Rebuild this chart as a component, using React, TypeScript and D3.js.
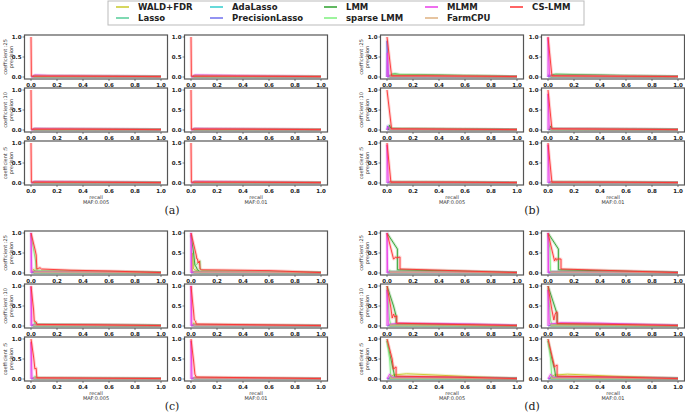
import React from "react";
import * as d3 from "d3";

type Pt = [number, number];
type Series = { m: string; p: Pt[] };

const methods = ["WALD+FDR", "Lasso", "AdaLasso", "PrecisionLasso", "LMM", "sparse LMM", "MLMM", "FarmCPU", "CS-LMM"];
const methodColors = ["#c8c828", "#55cc99", "#33cccc", "#6f6fee", "#2ca02c", "#7cf07c", "#e83ee8", "#deb080", "#ff3030"];

const xTicks = [0, 0.2, 0.4, 0.6, 0.8, 1.0];
const yTicks = [0, 0.5, 1.0];
const coefLabels = ["coefficient :25", "coefficient :10", "coefficient :5"];
const mafLabels = ["MAF:0.005", "MAF:0.01"];
const groupLabels = ["(a)", "(b)", "(c)", "(d)"];

// near-zero background curves shared by every panel
const background: Series[] = [
  { m: "WALD+FDR", p: [[0.01, 0], [0.03, 0.02], [0.5, 0.015], [1, 0.01]] },
  { m: "Lasso", p: [[0.02, 0.01], [1, 0.008]] },
  { m: "AdaLasso", p: [[0.02, 0.01], [1, 0.008]] },
  { m: "PrecisionLasso", p: [[0, 0], [0.02, 0.02], [1, 0.01]] },
  { m: "LMM", p: [[0.02, 0.02], [0.4, 0.02], [1, 0.01]] },
  { m: "sparse LMM", p: [[0.02, 0.02], [1, 0.01]] },
  { m: "FarmCPU", p: [[0.02, 0.02], [0.5, 0.02], [1, 0.01]] },
];

// (a)
const a25L: Series[] = [
  { m: "MLMM", p: [[0.01, 0], [0.03, 0.05], [0.15, 0.035], [0.5, 0.025], [1, 0.01]] },
  { m: "CS-LMM", p: [[0, 1], [0.003, 0.02], [0.3, 0.02], [1, 0.01]] },
];
const a25R: Series[] = [
  { m: "MLMM", p: [[0.01, 0], [0.03, 0.05], [0.3, 0.04], [0.6, 0.025], [1, 0.01]] },
  { m: "CS-LMM", p: [[0, 1], [0.003, 0.02], [0.3, 0.02], [1, 0.01]] },
];
const a10L: Series[] = [
  { m: "MLMM", p: [[0.01, 0], [0.03, 0.04], [0.3, 0.03], [1, 0.01]] },
  { m: "CS-LMM", p: [[0, 1], [0.003, 0.02], [0.3, 0.02], [1, 0.01]] },
];
const a10R: Series[] = [
  { m: "MLMM", p: [[0.01, 0], [0.03, 0.04], [0.3, 0.03], [1, 0.01]] },
  { m: "CS-LMM", p: [[0, 1], [0.003, 0.02], [0.3, 0.02], [1, 0.01]] },
];
const a5L: Series[] = [
  { m: "MLMM", p: [[0.01, 0], [0.03, 0.04], [0.5, 0.025], [1, 0.01]] },
  { m: "CS-LMM", p: [[0, 1], [0.003, 0.02], [0.3, 0.02], [1, 0.01]] },
];
const a5R: Series[] = [
  { m: "MLMM", p: [[0.01, 0], [0.03, 0.04], [0.5, 0.025], [1, 0.01]] },
  { m: "CS-LMM", p: [[0, 1], [0.003, 0.02], [0.3, 0.02], [1, 0.01]] },
];

// (b)
const b25L: Series[] = [
  { m: "PrecisionLasso", p: [[0, 0], [0, 0.9], [0.01, 0.02], [1, 0.01]] },
  { m: "LMM", p: [[0.02, 0.02], [0.04, 0.07], [0.06, 0.08], [0.1, 0.06], [0.4, 0.05], [0.7, 0.03], [1, 0.01]] },
  { m: "sparse LMM", p: [[0.03, 0.02], [0.05, 0.06], [0.3, 0.04], [1, 0.01]] },
  { m: "MLMM", p: [[0, 0], [0.003, 0.6], [0.01, 0.02], [1, 0.01]] },
  { m: "CS-LMM", p: [[0, 1], [0.035, 0.03], [0.3, 0.03], [0.7, 0.02], [1, 0.01]] },
];
const b25R: Series[] = [
  { m: "PrecisionLasso", p: [[0, 0], [0.005, 0.05], [0.02, 0.02], [1, 0.01]] },
  { m: "LMM", p: [[0.02, 0.02], [0.04, 0.06], [0.06, 0.07], [0.4, 0.05], [0.8, 0.02], [1, 0.01]] },
  { m: "sparse LMM", p: [[0.03, 0.02], [0.05, 0.05], [0.3, 0.04], [1, 0.01]] },
  { m: "MLMM", p: [[0, 0], [0, 0.98], [0.012, 0.03], [0.5, 0.02], [1, 0.01]] },
  { m: "CS-LMM", p: [[0, 1], [0.03, 0.03], [0.5, 0.02], [1, 0.01]] },
];
const b10L: Series[] = [
  { m: "PrecisionLasso", p: [[0, 0], [0.005, 0.1], [0.02, 0.02]] },
  { m: "LMM", p: [[0.01, 0], [0.02, 0.12], [0.03, 0.04], [0.5, 0.02], [1, 0.01]] },
  { m: "MLMM", p: [[0, 0], [0.005, 0.08], [0.02, 0.02], [1, 0.01]] },
  { m: "CS-LMM", p: [[0, 1], [0.035, 0.03], [0.5, 0.02], [1, 0.01]] },
];
const b10R: Series[] = [
  { m: "LMM", p: [[0.01, 0], [0.02, 0.1], [0.03, 0.03], [1, 0.01]] },
  { m: "MLMM", p: [[0, 0], [0, 0.9], [0.01, 0.03], [1, 0.01]] },
  { m: "CS-LMM", p: [[0, 1], [0.03, 0.03], [0.5, 0.02], [1, 0.01]] },
];
const b5L: Series[] = [
  { m: "MLMM", p: [[0, 0], [0, 0.95], [0.01, 0.02], [1, 0.01]] },
  { m: "CS-LMM", p: [[0, 1], [0.03, 0.02], [0.5, 0.02], [1, 0.01]] },
];
const b5R: Series[] = [
  { m: "MLMM", p: [[0, 0], [0, 0.95], [0.01, 0.02], [1, 0.01]] },
  { m: "CS-LMM", p: [[0, 1], [0.03, 0.02], [0.5, 0.02], [1, 0.01]] },
];

// (c)
const c25L: Series[] = [
  { m: "WALD+FDR", p: [[0.01, 0], [0.02, 0.1], [0.03, 0.05], [0.06, 0.03], [1, 0.01]] },
  { m: "LMM", p: [[0.02, 0], [0.03, 0.04], [0.06, 0.03], [0.5, 0.02], [1, 0.01]] },
  { m: "sparse LMM", p: [[0, 0.95], [0.035, 0.3], [0.04, 0.08], [0.07, 0.06], [0.3, 0.05], [0.6, 0.03], [1, 0.01]] },
  { m: "MLMM", p: [[0, 0], [0, 1], [0.006, 0.03], [1, 0.01]] },
  { m: "CS-LMM", p: [[0, 1], [0.03, 0.6], [0.04, 0.45], [0.045, 0.1], [0.06, 0.12], [0.07, 0.13], [0.08, 0.1], [0.3, 0.07], [0.6, 0.05], [1, 0.01]] },
];
const c25R: Series[] = [
  { m: "WALD+FDR", p: [[0.01, 0], [0.01, 0.5], [0.02, 0.1], [0.04, 0.06], [0.08, 0.02]] },
  { m: "LMM", p: [[0, 0.95], [0.02, 0.5], [0.03, 0.2], [0.04, 0.15], [0.05, 0.08], [0.07, 0.02], [1, 0.01]] },
  { m: "sparse LMM", p: [[0.04, 0.2], [0.06, 0.28], [0.07, 0.3], [0.07, 0.1], [0.09, 0.06], [1, 0.01]] },
  { m: "MLMM", p: [[0, 0], [0, 1], [0.006, 0.02], [1, 0.01]] },
  { m: "CS-LMM", p: [[0, 1], [0.04, 0.45], [0.045, 0.35], [0.05, 0.35], [0.055, 0.25], [0.065, 0.3], [0.07, 0.1], [0.08, 0.08], [0.6, 0.06], [1, 0.01]] },
];
const c10L: Series[] = [
  { m: "LMM", p: [[0.02, 0], [0.03, 0.03], [1, 0.01]] },
  { m: "sparse LMM", p: [[0.02, 0], [0.03, 0.1], [0.04, 0.04], [1, 0.01]] },
  { m: "MLMM", p: [[0, 0], [0, 0.98], [0.006, 0.03], [1, 0.01]] },
  { m: "CS-LMM", p: [[0, 1], [0.02, 0.4], [0.025, 0.12], [0.04, 0.1], [0.045, 0.04], [0.5, 0.03], [1, 0.01]] },
];
const c10R: Series[] = [
  { m: "WALD+FDR", p: [[0.01, 0], [0.02, 0.08], [0.03, 0.02]] },
  { m: "MLMM", p: [[0, 0], [0, 1], [0.006, 0.02], [1, 0.01]] },
  { m: "CS-LMM", p: [[0, 1], [0.02, 0.35], [0.025, 0.15], [0.035, 0.12], [0.04, 0.05], [0.5, 0.03], [1, 0.01]] },
];
const c5L: Series[] = [
  { m: "sparse LMM", p: [[0.02, 0], [0.03, 0.07], [0.05, 0.02], [1, 0.01]] },
  { m: "MLMM", p: [[0, 0], [0, 0.92], [0.008, 0.02], [1, 0.01]] },
  { m: "CS-LMM", p: [[0, 1], [0.02, 0.55], [0.03, 0.25], [0.04, 0.27], [0.045, 0.03], [0.5, 0.02], [1, 0.01]] },
];
const c5R: Series[] = [
  { m: "MLMM", p: [[0, 0], [0, 0.95], [0.008, 0.02], [1, 0.01]] },
  { m: "CS-LMM", p: [[0, 1], [0.02, 0.45], [0.03, 0.12], [0.04, 0.05], [0.5, 0.03], [1, 0.01]] },
];

// (d)
const d25L: Series[] = [
  { m: "PrecisionLasso", p: [[0.01, 0], [0.02, 0.03], [0.5, 0.025], [1, 0.015]] },
  { m: "LMM", p: [[0, 1], [0.08, 0.6], [0.08, 0.08], [0.5, 0.05], [1, 0.01]] },
  { m: "sparse LMM", p: [[0.01, 0], [0.02, 0.07], [0.03, 0.03], [1, 0.01]] },
  { m: "MLMM", p: [[0, 0], [0, 1], [0.005, 0.02], [1, 0.01]] },
  { m: "CS-LMM", p: [[0, 1], [0.05, 0.35], [0.06, 0.37], [0.065, 0.4], [0.075, 0.38], [0.1, 0.4], [0.1, 0.1], [0.5, 0.06], [1, 0.01]] },
];
const d25R: Series[] = [
  { m: "PrecisionLasso", p: [[0.01, 0], [0.02, 0.03], [0.5, 0.025], [1, 0.015]] },
  { m: "LMM", p: [[0, 1], [0.08, 0.6], [0.08, 0.08], [0.5, 0.05], [1, 0.01]] },
  { m: "sparse LMM", p: [[0, 0.95], [0.015, 0.6], [0.02, 0]] },
  { m: "MLMM", p: [[0, 0], [0, 1], [0.005, 0.02], [1, 0.01]] },
  { m: "CS-LMM", p: [[0, 1], [0.05, 0.3], [0.06, 0.37], [0.065, 0.32], [0.075, 0.35], [0.1, 0.35], [0.1, 0.1], [0.5, 0.06], [1, 0.01]] },
];
const d10L: Series[] = [
  { m: "LMM", p: [[0, 1], [0.05, 0.5], [0.07, 0.25], [0.07, 0.05], [0.5, 0.04], [1, 0.01]] },
  { m: "sparse LMM", p: [[0, 0.95], [0.02, 0.15], [0.03, 0.03]] },
  { m: "MLMM", p: [[0, 0], [0, 0.9], [0.01, 0.04], [0.1, 0.07], [0.4, 0.06], [0.65, 0.05], [1, 0.02]] },
  { m: "CS-LMM", p: [[0, 1], [0.03, 0.45], [0.04, 0.2], [0.05, 0.3], [0.06, 0.22], [0.07, 0.25], [0.075, 0.25], [0.075, 0.07], [0.5, 0.04], [1, 0.01]] },
];
const d10R: Series[] = [
  { m: "LMM", p: [[0, 1], [0.05, 0.5], [0.07, 0.3], [0.07, 0.05], [0.5, 0.04], [1, 0.01]] },
  { m: "sparse LMM", p: [[0, 0.95], [0.02, 0.15], [0.03, 0.03]] },
  { m: "MLMM", p: [[0, 0], [0, 0.9], [0.01, 0.05], [0.1, 0.08], [0.4, 0.07], [0.65, 0.05], [1, 0.02]] },
  { m: "CS-LMM", p: [[0, 1], [0.03, 0.4], [0.045, 0.15], [0.055, 0.3], [0.065, 0.35], [0.07, 0.35], [0.07, 0.06], [0.5, 0.04], [1, 0.01]] },
];
const d5L: Series[] = [
  { m: "WALD+FDR", p: [[0.02, 0.05], [0.05, 0.1], [0.15, 0.13], [0.3, 0.11], [0.5, 0.08], [0.7, 0.05], [1, 0.02]] },
  { m: "PrecisionLasso", p: [[0.01, 0], [0.02, 0.03], [1, 0.02]] },
  { m: "LMM", p: [[0, 0.95], [0.03, 0.5], [0.05, 0.2], [0.06, 0.05], [1, 0.01]] },
  { m: "sparse LMM", p: [[0, 1], [0.02, 0.5], [0.03, 0.02]] },
  { m: "MLMM", p: [[0, 0], [0.02, 0.12], [0.04, 0.04], [0.4, 0.04], [1, 0.01]] },
  { m: "CS-LMM", p: [[0, 1], [0.04, 0.5], [0.05, 0.25], [0.06, 0.27], [0.065, 0.3], [0.07, 0.3], [0.07, 0.07], [0.5, 0.05], [1, 0.01]] },
];
const d5R: Series[] = [
  { m: "WALD+FDR", p: [[0.02, 0.05], [0.05, 0.1], [0.15, 0.12], [0.3, 0.1], [0.5, 0.07], [0.7, 0.05], [1, 0.02]] },
  { m: "PrecisionLasso", p: [[0.01, 0], [0.02, 0.03], [1, 0.02]] },
  { m: "LMM", p: [[0, 0.95], [0.03, 0.5], [0.05, 0.25], [0.06, 0.05], [1, 0.01]] },
  { m: "sparse LMM", p: [[0, 1], [0.02, 0.5], [0.03, 0.02]] },
  { m: "MLMM", p: [[0, 0], [0.02, 0.12], [0.04, 0.04], [0.4, 0.04], [1, 0.01]] },
  { m: "CS-LMM", p: [[0, 1], [0.04, 0.45], [0.05, 0.3], [0.06, 0.33], [0.07, 0.35], [0.07, 0.07], [0.5, 0.05], [1, 0.01]] },
];

// group -> row -> column
const panels: Series[][][][] = [
  [[a25L, a25R], [a10L, a10R], [a5L, a5R]],
  [[b25L, b25R], [b10L, b10R], [b5L, b5R]],
  [[c25L, c25R], [c10L, c10R], [c5L, c5R]],
  [[d25L, d25R], [d10L, d10R], [d5L, d5R]],
];

// layout
const W = 685;
const H = 415;
const colX = [24.5, 184.5, 380.5, 541.5];
const rowTop = [35, 88, 141, 231, 284, 337];
const PW = 143;
const PH = 44;
const groupLabelPos: [number, number][] = [[172, 214], [532, 214], [172, 410], [532, 410]];
const legendColX = [138, 232, 346, 447, 532];

const FONT = "DejaVu Sans, sans-serif";

function Panel({ g, r, c, series }: { g: number; r: number; c: number; series: Series[] }) {
  const left = colX[(g % 2) * 2 + c];
  const top = rowTop[Math.floor(g / 2) * 3 + r];
  const x = d3.scaleLinear().domain([-0.05, 1.05]).range([left, left + PW]);
  const y = d3.scaleLinear().domain([-0.05, 1.05]).range([top + PH, top]);
  const line = d3.line<Pt>().x((d) => x(d[0])).y((d) => y(d[1]));
  const all = [...background, ...series].sort((a, b) => methods.indexOf(a.m) - methods.indexOf(b.m));
  const clipId = `clip-${g}-${r}-${c}`;
  const bottom = top + PH;
  return (
    <g>
      <defs>
        <clipPath id={clipId}>
          <rect x={left} y={top} width={PW} height={PH} />
        </clipPath>
      </defs>
      <g clipPath={`url(#${clipId})`}>
        {all.map((s, i) => {
          const col = methodColors[methods.indexOf(s.m)];
          return (
            <g key={i}>
              <path d={line(s.p) || ""} fill="none" stroke={col} strokeWidth={3} strokeOpacity={0.22} strokeLinejoin="round" />
              <path d={line(s.p) || ""} fill="none" stroke={col} strokeWidth={1} strokeOpacity={0.9} />
            </g>
          );
        })}
      </g>
      <rect x={left} y={top} width={PW} height={PH} fill="none" stroke="#555" strokeWidth={1.2} />
      {xTicks.map((t) => (
        <g key={"x" + t}>
          <line x1={x(t)} x2={x(t)} y1={bottom} y2={bottom + 2} stroke="#333" strokeWidth={0.6} />
          <text x={x(t)} y={bottom + 7.5} fontSize={5.5} fontWeight="bold" textAnchor="middle" fontFamily={FONT} fill="#222">
            {t.toFixed(1)}
          </text>
        </g>
      ))}
      {yTicks.map((t) => (
        <g key={"y" + t}>
          <line x1={left - 2} x2={left} y1={y(t)} y2={y(t)} stroke="#333" strokeWidth={0.6} />
          <text x={left - 3} y={y(t) + 2} fontSize={5.5} fontWeight="bold" textAnchor="end" fontFamily={FONT} fill="#222">
            {t.toFixed(1)}
          </text>
        </g>
      ))}
      {c === 0 && (
        <g>
          <text transform={`translate(${left - 17.5},${top + PH / 2}) rotate(-90)`} fontSize={5} textAnchor="middle" fontFamily={FONT} fill="#333">
            {coefLabels[r]}
          </text>
          <text transform={`translate(${left - 11.5},${top + PH / 2}) rotate(-90)`} fontSize={5} textAnchor="middle" fontFamily={FONT} fill="#333">
            precision
          </text>
        </g>
      )}
      {r === 2 && (
        <g>
          <text x={left + PW / 2} y={bottom + 13.5} fontSize={5} textAnchor="middle" fontFamily={FONT} fill="#333">
            recall
          </text>
          <text x={left + PW / 2} y={bottom + 19} fontSize={5} textAnchor="middle" fontFamily={FONT} fill="#333">
            {mafLabels[c]}
          </text>
        </g>
      )}
    </g>
  );
}

export default function App() {
  return (
    <svg width={W} height={H} style={{ position: "absolute", left: 0, top: 0, background: "#fff" }}>
      <rect x={0} y={0} width={W} height={H} fill="#fff" />
      {/* legend */}
      <rect x={108} y={1} width={476} height={24} fill="#fff" stroke="#bbb" strokeWidth={1} />
      {methods.map((m, i) => {
        const col = Math.floor(i / 2);
        const row = i % 2;
        const tx = legendColX[col];
        const ty = row === 0 ? 7 : 18;
        return (
          <g key={m}>
            <line x1={tx - 22} x2={tx - 9} y1={ty} y2={ty} stroke={methodColors[i]} strokeWidth={1.5} />
            <text x={tx} y={ty + 3} fontSize={8.5} fontWeight="bold" fontFamily={FONT} fill="#222">
              {m}
            </text>
          </g>
        );
      })}
      {panels.map((grp, g) =>
        grp.map((row, r) => row.map((s, c) => <Panel key={`${g}-${r}-${c}`} g={g} r={r} c={c} series={s} />))
      )}
      {groupLabels.map((l, i) => (
        <text key={l} x={groupLabelPos[i][0]} y={groupLabelPos[i][1]} fontSize={11} textAnchor="middle" fontFamily="DejaVu Serif, serif" fill="#222">
          {l}
        </text>
      ))}
    </svg>
  );
}
